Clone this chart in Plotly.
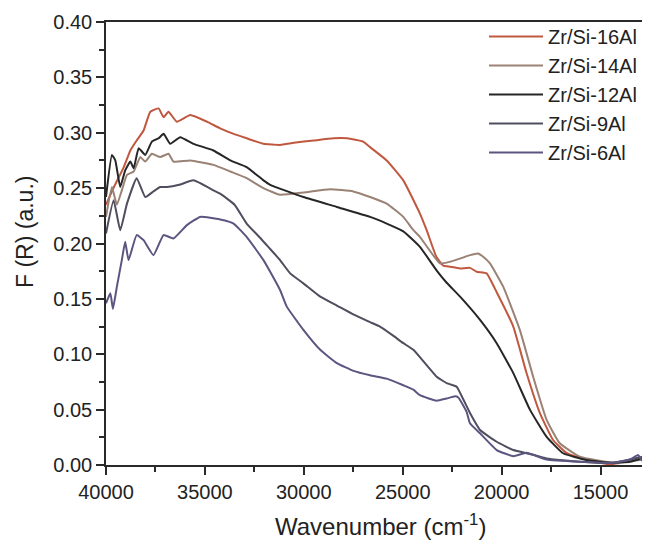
import plotly.graph_objects as go

# ---- data ----
names = ["Zr/Si-16Al", "Zr/Si-14Al", "Zr/Si-12Al", "Zr/Si-9Al", "Zr/Si-6Al"]
colors = ["#C0583F", "#9A8275", "#262626", "#4E4E5E", "#5B5680"]

wn_16 = [40000, 39600, 39100, 38770, 38450, 38100, 37760, 37340, 37090, 36840, 36420, 35740, 34900,
         34230, 33550, 32890, 32040, 31200, 30500, 29500, 28500, 27800, 27000, 26650, 25810, 24970,
         24130, 23790, 23300, 22950, 22610, 22100, 21600, 21260, 20760, 20250, 19410, 18740, 18070,
         17400, 16720, 15710, 14370, 13500, 13010, 12800, 12600]
f_16 = [0.235, 0.251, 0.269, 0.284, 0.293, 0.302, 0.319, 0.322, 0.314, 0.319, 0.310, 0.316, 0.310,
        0.304, 0.299, 0.295, 0.290, 0.289, 0.291, 0.293, 0.295, 0.295, 0.292, 0.287, 0.275, 0.257,
        0.227, 0.212, 0.188, 0.180, 0.179, 0.1775, 0.178, 0.1745, 0.173, 0.156, 0.125, 0.083, 0.047,
        0.0226, 0.011, 0.0045, 0.0, -0.002, -0.003, -0.001, 0.0]

wn_14 = [40000, 39700, 39450, 39200, 38940, 38600, 38270, 38015, 37680, 37260, 36840, 36590, 35740,
         34570, 33720, 32890, 32040, 31200, 30000, 28670, 27500, 26650, 25810, 24970, 24460, 24130,
         23115, 22610, 22000, 21600, 21200, 20930, 20590, 19920, 19080, 18410, 17730, 17060, 16050,
         14370, 13500, 13010, 12600]
f_14 = [0.224, 0.251, 0.235, 0.248, 0.262, 0.265, 0.278, 0.274, 0.281, 0.278, 0.281, 0.274, 0.275,
        0.271, 0.265, 0.259, 0.250, 0.244, 0.246, 0.249, 0.247, 0.242, 0.236, 0.224, 0.212, 0.206,
        0.182, 0.1835, 0.187, 0.1895, 0.191, 0.188, 0.182, 0.161, 0.122, 0.080, 0.041, 0.0196, 0.0075,
        0.002, 0.004, 0.0045, 0.008]

wn_12 = [40000, 39700, 39530, 39280, 39030, 38770, 38600, 38350, 38015, 37680, 37340, 37090, 36750,
         36250, 35580, 34570, 33720, 32890, 32040, 31700, 30020, 28330, 26650, 25810, 24970, 24130,
         23300, 22800, 22100, 21090, 20250, 19410, 18570, 17730, 16890, 15710, 14370, 13500, 12600]
f_12 = [0.242, 0.280, 0.275, 0.251, 0.266, 0.274, 0.268, 0.286, 0.280, 0.292, 0.295, 0.299, 0.290,
        0.296, 0.290, 0.284, 0.275, 0.269, 0.257, 0.253, 0.242, 0.233, 0.224, 0.218, 0.211, 0.197,
        0.176, 0.165, 0.152, 0.131, 0.110, 0.083, 0.050, 0.0256, 0.0106, 0.0045, 0.002, 0.003, 0.008]

wn_9 = [40000, 39615, 39280, 38940, 38450, 38015, 37600, 37260, 36920, 36300, 35580, 34570, 34230,
        33500, 32890, 32200, 31700, 31200, 30690, 30020, 29170, 28330, 27500, 26650, 26150, 25500,
        24970, 24460, 23300, 22780, 22450, 22270, 21600, 21090, 20250, 19410, 18570, 17730, 16050,
        14370, 13500, 13000, 12600]
f_9 = [0.209, 0.239, 0.212, 0.236, 0.259, 0.242, 0.247, 0.251, 0.251, 0.253, 0.257, 0.248, 0.245,
       0.235, 0.218, 0.205, 0.195, 0.185, 0.173, 0.164, 0.152, 0.144, 0.136, 0.129, 0.125, 0.117,
       0.110, 0.104, 0.080, 0.074, 0.072, 0.0707, 0.047, 0.0316, 0.021, 0.0135, 0.010, 0.006, 0.003,
       0.002, 0.005, 0.007, 0.009]

wn_6 = [40000, 39780, 39650, 39450, 39200, 39030, 38860, 38450, 38100, 37600, 37090, 36590, 35910,
        35240, 34230, 33550, 32890, 32040, 31700, 31200, 30860, 30020, 29170, 28330, 27490, 26650,
        25810, 24970, 24460, 24130, 23300, 22780, 22360, 22190, 21770, 21600, 21090, 20250, 19410,
        18740, 17730, 16050, 14370, 13500, 13100, 12900, 12600]
f_6 = [0.146, 0.155, 0.141, 0.161, 0.185, 0.2015, 0.185, 0.2076, 0.203, 0.1895, 0.2076, 0.2046, 0.2166,
       0.224, 0.2217, 0.218, 0.206, 0.185, 0.1745, 0.158, 0.143, 0.122, 0.104, 0.092, 0.085, 0.081,
       0.078, 0.072, 0.068, 0.063, 0.058, 0.060, 0.062, 0.061, 0.048, 0.0376, 0.0286, 0.0135, 0.008,
       0.011, 0.005, 0.003, 0.002, 0.005, 0.009, 0.004, 0.009]

x_ticks = [40000, 35000, 30000, 25000, 20000, 15000]
y_ticks = [0.00, 0.05, 0.10, 0.15, 0.20, 0.25, 0.30, 0.35, 0.40]

series_x = [wn_16, wn_14, wn_12, wn_9, wn_6]
series_y = [f_16, f_14, f_12, f_9, f_6]

FONT = "Liberation Sans, Arial, sans-serif"
AX = "#2a2a2a"
TXT = "#222"

# page body has an 8px margin: figure coordinates = screen - 8
OFF = 8
W, H = 650, 545
ML, MT = 106 - OFF, 22 - OFF
PR, PB = 648 - OFF, 465 - OFF          # plot right / bottom in figure px
MR, MB = W - PR, H - PB
PW, PH = PR - ML, PB - MT


def px_x(sx):
    return (sx - OFF - ML) / PW


def px_y(sy):
    return (PB - (sy - OFF)) / PH


fig = go.Figure()
for nm, col, xs, ys in zip(names, colors, series_x, series_y):
    fig.add_trace(go.Scatter(x=xs, y=ys, mode="lines", name=nm,
                             line=dict(color=col, width=2, shape="spline", smoothing=0.4)))

fig.update_layout(
    width=W, height=H,
    margin=dict(l=ML, r=MR, t=MT, b=MB, autoexpand=False),
    paper_bgcolor="white", plot_bgcolor="white",
    font=dict(family=FONT, color=TXT, size=20),
    showlegend=True,
    legend=dict(x=px_x(484), xanchor="left", y=px_y(17), yanchor="top",
                font=dict(family=FONT, size=20, color=TXT),
                bgcolor="rgba(0,0,0,0)", itemwidth=54, tracegroupgap=0),
    annotations=[
        dict(text="Wavenumber (cm<sup>-1</sup>)", xref="paper", yref="paper",
             x=px_x(380), y=px_y(525), xanchor="center", yanchor="middle",
             showarrow=False, font=dict(size=24, family=FONT, color=TXT)),
        dict(text="F (R) (a.u.)", xref="paper", yref="paper", textangle=-90,
             x=px_x(25), y=px_y(232), xanchor="center", yanchor="middle",
             showarrow=False, font=dict(size=23, family=FONT, color=TXT)),
    ],
)
fig.update_xaxes(
    range=[40000, 12600], tickvals=x_ticks, ticktext=[str(v) for v in x_ticks],
    automargin=False,
    showgrid=False, zeroline=False, showline=True, linecolor=AX, linewidth=1.5, mirror=True,
    ticks="outside", ticklen=8, tickwidth=1.5, tickcolor=AX,
    minor=dict(dtick=2500, tick0=0, ticks="outside", ticklen=5, tickwidth=1.5, tickcolor=AX),
    tickfont=dict(size=20, family=FONT, color=TXT),
)
fig.update_yaxes(
    range=[0, 0.40], tickvals=y_ticks, ticktext=["%.2f" % v for v in y_ticks],
    automargin=False,
    showgrid=False, zeroline=False, showline=True, linecolor=AX, linewidth=1.5, mirror=True,
    ticks="outside", ticklen=8, tickwidth=1.5, tickcolor=AX,
    minor=dict(dtick=0.025, tick0=0, ticks="outside", ticklen=5, tickwidth=1.5, tickcolor=AX),
    tickfont=dict(size=20, family=FONT, color=TXT),
)

fig.write_html("out.html")
